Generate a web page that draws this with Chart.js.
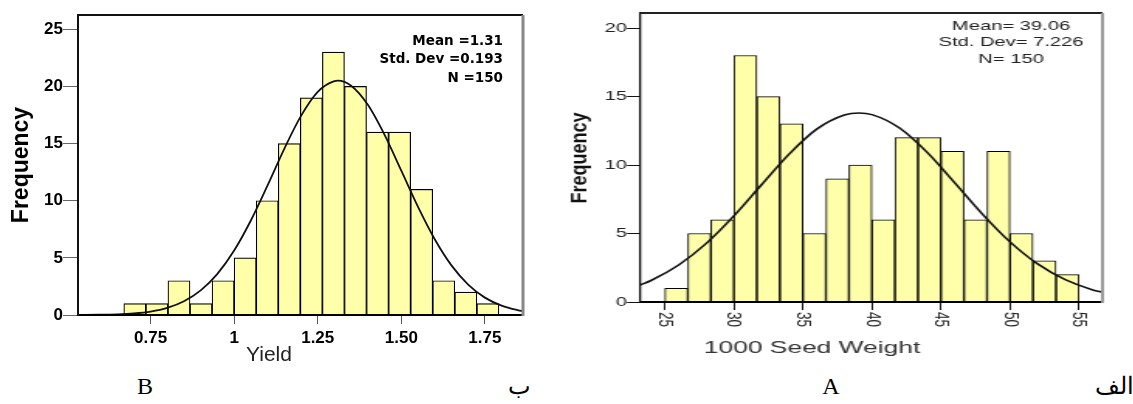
<!DOCTYPE html>
<html lang="fa">
<head>
<meta charset="utf-8">
<title>Histogramas</title>
<script src="https://cdn.jsdelivr.net/npm/chart.js@4.4.1/dist/chart.umd.min.js"></script>
<style>
  html, body { margin: 0; padding: 0; background: #fff; width: 1133px; height: 404px; overflow: hidden; }
  .caja { position: absolute; top: 0; }
  #cajaB { left: 0; width: 560px; height: 370px; }
  /* la figura original esta estirada horizontalmente */
  #cajaA { left: 560px; width: 370px; height: 370px; transform: scaleX(1.55); transform-origin: 0 0; }
  .rotulo { position: absolute; top: 374px; font-family: 'Liberation Serif', 'Times New Roman', serif; font-size: 24px; line-height: 1; color: #000; transform: translateX(-50%); white-space: nowrap; }
</style>
</head>
<body>
<div class="caja" id="cajaB"><canvas id="graficoB"></canvas></div>
<div class="caja" id="cajaA"><canvas id="graficoA"></canvas></div>
<div class="rotulo" style="left:145px;">B</div>
<div class="rotulo" style="left:519px;" dir="rtl">ب</div>
<div class="rotulo" style="left:831px;">A</div>
<div class="rotulo" style="left:1114px;" dir="rtl">الف</div>

<script>
// --- DATOS: HISTOGRAMA B (Yield) ---
const centrosYield = [0.703, 0.769, 0.835, 0.901, 0.967, 1.033, 1.099, 1.165, 1.231, 1.297, 1.363, 1.429, 1.495, 1.561, 1.627, 1.693, 1.759];
const frecYield = [1, 1, 3, 1, 3, 5, 10, 15, 19, 23, 20, 16, 16, 11, 3, 2, 1];
const curvaYieldX = [0.533, 0.55, 0.60, 0.65, 0.70, 0.75, 0.80, 0.85, 0.90, 0.95, 1.00, 1.05, 1.10, 1.15, 1.20, 1.25, 1.30, 1.31, 1.35, 1.40, 1.45, 1.50, 1.55, 1.60, 1.65, 1.70, 1.75, 1.80, 1.85, 1.864];
const curvaYieldY = [0.01, 0.01, 0.02, 0.06, 0.14, 0.30, 0.62, 1.20, 2.15, 3.60, 5.64, 8.27, 11.34, 14.54, 17.42, 19.53, 20.47, 20.50, 20.06, 18.39, 15.76, 12.63, 9.46, 6.63, 4.34, 2.66, 1.52, 0.82, 0.41, 0.33];
const ticksYield = [0.75, 1, 1.25, 1.5, 1.75];
const etiquetasYield = ['0.75', '1', '1.25', '1.50', '1.75'];
const resumenYield = ['Mean =1.31', 'Std. Dev =0.193', 'N =150'];

// --- DATOS: HISTOGRAMA A (1000 Seed Weight) ---
const centrosPeso = [25.83, 27.5, 29.17, 30.83, 32.5, 34.17, 35.83, 37.5, 39.17, 40.83, 42.5, 44.17, 45.83, 47.5, 49.17, 50.83, 52.5, 54.17];
const frecPeso = [1, 5, 6, 18, 15, 13, 5, 9, 10, 6, 12, 12, 11, 6, 11, 5, 3, 2];
const curvaPesoX = [23.2, 24, 26, 28, 30, 32, 34, 36, 38, 39.06, 40, 42, 44, 46, 48, 50, 52, 54, 56, 56.7];
const curvaPesoY = [1.24, 1.57, 2.70, 4.28, 6.29, 8.56, 10.80, 12.62, 13.65, 13.80, 13.68, 12.70, 10.92, 8.70, 6.42, 4.39, 2.78, 1.63, 0.88, 0.71];
const ticksPeso = [25, 30, 35, 40, 45, 50, 55];
const etiquetasPeso = ['25', '30', '35', '40', '45', '50', '55'];
const resumenPeso = ['Mean= 39.06', 'Std. Dev= 7.226', 'N= 150'];

const ESTIRAMIENTO_A = 1.55;
Chart.defaults.font.family = "'Liberation Sans', Arial, sans-serif";

// --- PLUGIN: marco, textos libres y etiquetas giradas ---
const pluginTextos = {
  id: 'textos',
  afterDraw(chart, args, opts) {
    const ctx = chart.ctx;
    const area = chart.chartArea;

    // marco superior y derecho
    ctx.save();
    ctx.strokeStyle = opts.colorArriba;
    ctx.lineWidth = opts.anchoArriba;
    ctx.beginPath();
    ctx.moveTo(area.left, area.top);
    ctx.lineTo(area.right, area.top);
    ctx.stroke();
    ctx.strokeStyle = opts.colorDerecha;
    ctx.lineWidth = opts.anchoDerecha;
    ctx.beginPath();
    ctx.moveTo(area.right, area.top);
    ctx.lineTo(area.right, area.bottom + 1);
    ctx.stroke();
    ctx.restore();

    // etiquetas del eje x giradas 90 grados (de arriba hacia abajo)
    if (opts.girar) {
      const escala = chart.scales.x;
      ctx.save();
      ctx.font = opts.girar.fuente;
      ctx.fillStyle = opts.girar.color;
      ctx.textAlign = 'left';
      ctx.textBaseline = 'middle';
      ticksPeso.forEach((v, i) => {
        const px = escala.getPixelForValue(v);
        ctx.save();
        ctx.translate(px, escala.top + opts.girar.desde);
        ctx.rotate(Math.PI / 2);
        ctx.fillText(etiquetasPeso[i], 0, 0);
        ctx.restore();
      });
      ctx.restore();
    }

    (opts.items || []).forEach(it => {
      ctx.save();
      ctx.font = it.fuente;
      ctx.fillStyle = it.color || '#000';
      ctx.textAlign = it.alinear || 'center';
      ctx.textBaseline = 'middle';
      ctx.translate(it.x, it.y);
      if (it.escalaX) ctx.scale(it.escalaX, 1);
      if (it.girar) ctx.rotate(it.girar);
      const lineas = it.lineas || [it.texto];
      lineas.forEach((t, i) => ctx.fillText(t, 0, i * (it.salto || 0)));
      ctx.restore();
    });
  }
};

// --- GRAFICO B ---
new Chart(document.getElementById('graficoB'), {
  type: 'bar',
  data: {
    datasets: [
      {
        type: 'line',
        data: curvaYieldX.map((x, i) => ({ x: x, y: curvaYieldY[i] })),
        borderColor: '#111',
        borderWidth: 1.8,
        pointRadius: 0,
        cubicInterpolationMode: 'monotone',
        fill: false,
        order: 0
      },
      {
        type: 'bar',
        data: centrosYield.map((x, i) => ({ x: x, y: frecYield[i] })),
        backgroundColor: '#ffffaa',
        borderColor: '#000',
        borderWidth: 1.2,
        barPercentage: 1,
        categoryPercentage: 1,
        order: 1
      }
    ]
  },
  options: {
    responsive: true,
    maintainAspectRatio: false,
    animation: false,
    layout: { padding: { top: 15, right: 37, left: 0, bottom: 0 } },
    plugins: {
      legend: { display: false },
      tooltip: { enabled: false },
      textos: {
        colorArriba: '#111', anchoArriba: 2,
        colorDerecha: '#888', anchoDerecha: 3,
        items: [
          { texto: 'Frequency', x: 22, y: 165, girar: -Math.PI / 2, fuente: "bold 23px 'Liberation Sans'" },
          { texto: 'Yield', x: 269, y: 355, fuente: "21px 'Liberation Sans'", color: '#222' },
          { lineas: resumenYield, x: 503, y: 41, salto: 18.5, alinear: 'right', fuente: "bold 13.5px 'DejaVu Sans'" }
        ]
      }
    },
    scales: {
      x: {
        type: 'linear',
        min: 0.533,
        max: 1.864,
        offset: false,
        afterFit: (s) => { s.height = 55; },
        border: { color: '#000', width: 2, z: 1 },
        grid: { drawOnChartArea: false, drawTicks: true, tickLength: 9, color: '#555', offset: false },
        ticks: {
          stepSize: 0.25,
          includeBounds: false,
          autoSkip: false,
          maxRotation: 0,
          padding: 4,
          color: '#000',
          font: { size: 17, weight: 'bold' },
          callback: (v) => {
            const i = ticksYield.findIndex(t => Math.abs(t - v) < 1e-6);
            return i >= 0 ? etiquetasYield[i] : '';
          }
        }
      },
      y: {
        min: 0,
        max: 26.25,
        afterFit: (s) => { s.width = 78; },
        border: { color: '#111', width: 2, z: 1 },
        grid: { drawOnChartArea: false, drawTicks: true, tickLength: 15, color: '#666' },
        ticks: { stepSize: 5, includeBounds: false, padding: 0, color: '#000', font: { size: 17, weight: 'bold' } }
      }
    }
  },
  plugins: [pluginTextos]
});

// --- GRAFICO A ---
new Chart(document.getElementById('graficoA'), {
  type: 'bar',
  data: {
    datasets: [
      {
        type: 'line',
        data: curvaPesoX.map((x, i) => ({ x: x, y: curvaPesoY[i] })),
        borderColor: '#111',
        borderWidth: 1.6,
        pointRadius: 0,
        cubicInterpolationMode: 'monotone',
        fill: false,
        order: 0
      },
      {
        type: 'bar',
        data: centrosPeso.map((x, i) => ({ x: x, y: frecPeso[i] })),
        backgroundColor: '#ffffaa',
        borderColor: '#000',
        borderWidth: 1,
        barPercentage: 1,
        categoryPercentage: 1,
        order: 1
      }
    ]
  },
  options: {
    responsive: true,
    maintainAspectRatio: false,
    animation: false,
    layout: { padding: { top: 13, right: 20, left: 0, bottom: 0 } },
    plugins: {
      legend: { display: false },
      tooltip: { enabled: false },
      textos: {
        colorArriba: '#222', anchoArriba: 2,
        colorDerecha: '#999', anchoDerecha: 2,
        girar: { fuente: "13.5px 'Liberation Sans'", color: '#222', desde: 10 },
        items: [
          { texto: 'Frequency', x: 13.2, y: 158, girar: -Math.PI / 2, escalaX: 1.25 / ESTIRAMIENTO_A, fuente: "bold 18px 'Liberation Sans'", color: '#111' },
          { texto: '1000 Seed Weight', x: 162.6, y: 348, fuente: "17px 'Liberation Sans'", color: '#333' },
          { lineas: resumenPeso, x: 291, y: 26, salto: 16.7, fuente: "13px 'Liberation Sans'", color: '#222' }
        ]
      }
    },
    scales: {
      x: {
        type: 'linear',
        min: 23.2,
        max: 56.7,
        offset: false,
        afterFit: (s) => { s.height = 68; },
        border: { color: '#000', width: 2, z: 1 },
        grid: { drawOnChartArea: false, drawTicks: true, tickLength: 8, color: '#111', offset: false },
        ticks: { stepSize: 5, includeBounds: false, autoSkip: false, display: false }
      },
      y: {
        min: 0,
        max: 21.1,
        afterFit: (s) => { s.width = 51.6; },
        border: { color: '#111', width: 1.3, z: 1 },
        grid: { drawOnChartArea: false, drawTicks: true, tickLength: 8.4, color: '#111' },
        ticks: { stepSize: 5, includeBounds: false, padding: 0, color: '#222', font: { size: 13 } }
      }
    }
  },
  plugins: [pluginTextos]
});
</script>
</body>
</html>
